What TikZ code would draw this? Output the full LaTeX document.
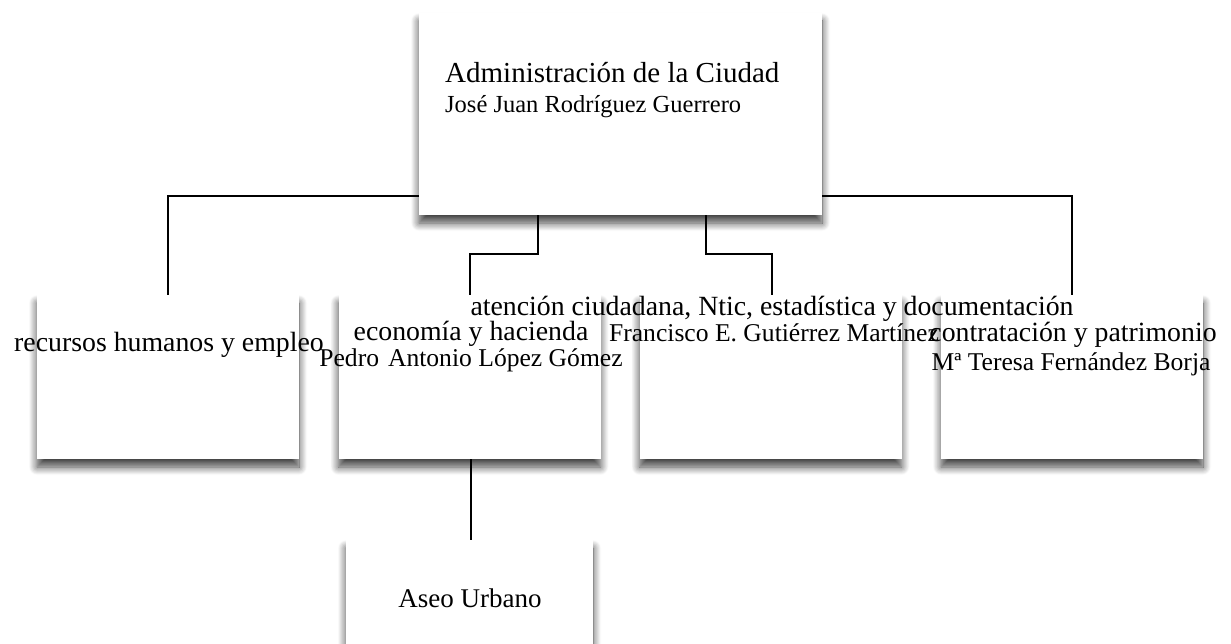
\documentclass[tikz,border=0pt]{standalone}
\usepackage{fontspec}
\setmainfont{Liberation Serif}
\usetikzlibrary{shadows.blur}
\begin{document}
\begin{tikzpicture}[x=1pt,y=-1pt,
  box/.style={fill=white, draw=none, inner sep=0pt,
    blur shadow={shadow xshift=0pt, shadow yshift=-8pt, shadow blur radius=8pt, shadow blur steps=12, shadow opacity=75}},
  rowbox/.style={box, minimum width=262pt, minimum height=164pt},
  ttl/.style={inner sep=0pt, anchor=base, font=\fontsize{27.8}{29}\selectfont},
  nme/.style={inner sep=0pt, anchor=base, font=\fontsize{25.6}{27}\selectfont},
  conn/.style={draw=black, line width=2pt}]
\useasboundingbox (0,0) rectangle (1231,644);
\clip (0,0) rectangle (1231,644);
% boxes
\node[box, minimum width=403pt, minimum height=202pt] (top) at (620.5,114) {};
\node[rowbox] (rh) at (168,377) {};
\node[rowbox] (eh) at (469.5,377) {};
\node[rowbox] (at) at (770.5,377) {};
\node[rowbox] (cp) at (1072,377) {};
\node[box, minimum width=247pt, minimum height=164pt] (au) at (469.5,622) {};
% connectors
\coordinate (hl) at ([yshift=19pt]top.south west);
\coordinate (hr) at ([yshift=19pt]top.south east);
\coordinate (s1) at ([xshift=-83pt]top.south);
\coordinate (s2) at ([xshift=85pt]top.south);
\draw[conn] (rh.north) |- (hl);
\draw[conn] (hr) -| (cp.north);
\draw[conn] (s1) -- ++(0,39) -| (eh.north);
\draw[conn] (s2) -- ++(0,39) -| ([xshift=1pt]at.north);
\draw[conn] ([xshift=1pt]eh.south) -- ([xshift=1pt]au.north);
% texts
\node[inner sep=0pt, anchor=base west, font=\fontsize{29}{30}\selectfont] (t0a) at (445,83) {Administración de la Ciudad};
\node[inner sep=0pt, anchor=base west, font=\fontsize{24.5}{26}\selectfont] (t0b) at (445,113) {José Juan Rodríguez Guerrero};
\node[ttl] (t1) at (169,351) {recursos humanos y empleo};
\node[ttl] (t2a) at (471,340) {economía y hacienda};
\node[nme] (t2b) at (471,366) {Pedro\hspace{0.35em}Antonio López Gómez};
\node[ttl] (t3a) at (772,315) {atención ciudadana, Ntic, estadística y documentación};
\node[nme] (t3b) at (774,341) {Francisco E. Gutiérrez Martínez};
\node[ttl] (t4a) at (1073,341) {contratación y patrimonio};
\node[nme] (t4b) at (1071,370) {Mª Teresa Fernández Borja};
\node[inner sep=0pt, anchor=base, font=\fontsize{27}{28}\selectfont] (t5) at (470,607) {Aseo Urbano};
\end{tikzpicture}
\end{document}
